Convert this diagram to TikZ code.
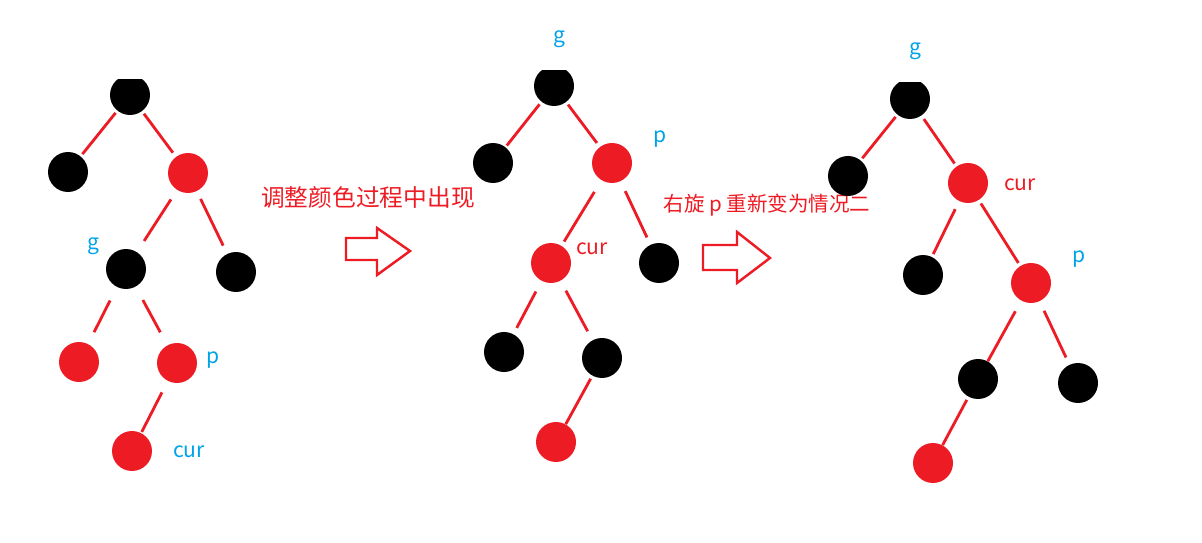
\documentclass[tikz,border=0pt]{standalone}
\usepackage{fontspec}
\setmainfont{Noto Sans CJK SC}
\usetikzlibrary{positioning}

\definecolor{rbred}{HTML}{ED1C24}
\definecolor{lblblue}{HTML}{00A2E8}

\tikzset{
  blk/.style={circle, fill=black, minimum size=0.8cm, inner sep=0pt},
  rd/.style={circle, fill=rbred, minimum size=0.8cm, inner sep=0pt},
  link/.style={draw=rbred, line width=1.6pt},
  gap/.style 2 args={shorten <=#1, shorten >=#2},
  lbl/.style={text=lblblue, font=\fontsize{12}{14}\selectfont},
  rlbl/.style={text=rbred, font=\fontsize{12}{14}\selectfont},
  hollow/.style={draw=rbred, line width=1.4pt, line join=miter}
}

\begin{document}
\begin{tikzpicture}[x=0.02cm, y=-0.02cm]
  \useasboundingbox (0,0) rectangle (1202,543);

  % first tree
  \begin{scope}
    \clip (90,80) rectangle (170,130);
    \node [blk] (a1) at (130,95) {};
  \end{scope}
  \node [blk] (b1) at (68,172) {};
  \node [rd]  (c1) at (188,173) {};
  \node [blk] (g1) at (126,269) {};
  \node [blk] (d1) at (236,272) {};
  \node [rd]  (e1) at (79,362) {};
  \node [rd]  (p1) at (177,363) {};
  \node [rd]  (x1) at (132,451) {};

  \draw [link, gap={1.5pt}{1.5pt}] (a1) -- (b1);
  \draw [link, gap={1.7pt}{2.8pt}] (a1) -- (c1);
  \draw [link, gap={6.3pt}{7.4pt}] (c1) -- (g1);
  \draw [link, gap={4.8pt}{5.1pt}] (c1) -- (d1);
  \draw [link, gap={8.5pt}{7.4pt}] (g1) -- (e1);
  \draw [link, gap={8.5pt}{8.3pt}] (g1) -- (p1);
  \draw [link, gap={7.2pt}{0.6pt}] (p1) -- (x1);

  \node [lbl] at (93,246) {g};
  \node [lbl] at (213,360) {p};
  \node [lbl] at (189,452) {cur};

  % colour change
  \node [text=rbred, font=\fontsize{13.5}{16}\selectfont] (t1) at (368,197) {调整颜色过程中出现};
  \draw [hollow] (346,238) -- (377,238) -- (377,228) -- (410,251)
  -- (377,275) -- (377,260) -- (346,260) -- cycle;

  % second tree
  \begin{scope}
    \clip (510,71) rectangle (600,120);
    \node [blk] (a2) at (554,86) {};
  \end{scope}
  \node [blk] (b2) at (493,163) {};
  \node [rd]  (p2) at (612,163) {};
  \node [rd]  (x2) at (551,263) {};
  \node [blk] (d2) at (659,263) {};
  \node [blk] (e2) at (504,352) {};
  \node [blk] (f2) at (602,358) {};
  \node [rd]  (h2) at (556,442) {};

  \draw [link, gap={1.7pt}{1.1pt}] (a2) -- (b2);
  \draw [link, gap={1.7pt}{2.7pt}] (a2) -- (p2);
  \draw [link, gap={7.7pt}{2.7pt}] (p2) -- (x2);
  \draw [link, gap={6.1pt}{4.5pt}] (p2) -- (d2);
  \draw [link, gap={6.8pt}{3.9pt}] (x2) -- (e2);
  \draw [link, gap={6.3pt}{5.7pt}] (x2) -- (f2);
  \draw [link, gap={1.9pt}{0pt}]   (f2) -- (h2);

  \node [lbl] at (559,39) {g};
  \node [lbl] at (660,139) {p};
  \node [rlbl] at (592,249) {cur};

  % rotation
  \node [text=rbred, font=\fontsize{11.7}{14}\selectfont] (t2) at (767,205) {右旋 p 重新变为情况二};
  \draw [hollow] (703,245) -- (737,245) -- (737,232) -- (770,258)
  -- (737,283) -- (737,270) -- (703,270) -- cycle;

  % third tree
  \begin{scope}
    \clip (870,83) rectangle (950,130);
    \node [blk] (a3) at (910,99) {};
  \end{scope}
  \node [blk] (b3) at (848,176) {};
  \node [rd]  (x3) at (968,183) {};
  \node [blk] (d3) at (923,275) {};
  \node [rd]  (p3) at (1031,283) {};
  \node [blk] (e3) at (978,379) {};
  \node [blk] (f3) at (1078,383) {};
  \node [rd]  (h3) at (933,463) {};

  \draw [link, gap={1.5pt}{1.4pt}] (a3) -- (b3);
  \draw [link, gap={2.3pt}{1.9pt}] (a3) -- (x3);
  \draw [link, gap={5pt}{1.7pt}]   (x3) -- (d3);
  \draw [link, gap={2.2pt}{1.9pt}] (x3) -- (p3);
  \draw [link, gap={6.8pt}{0pt}]   (p3) -- (e3);
  \draw [link, gap={5.9pt}{4.5pt}] (p3) -- (f3);
  \draw [link, gap={1.9pt}{0pt}]   (e3) -- (h3);

  \node [lbl] at (915,51) {g};
  \node [rlbl] at (1020,185) {cur};
  \node [lbl] at (1079,259) {p};
\end{tikzpicture}
\end{document}
